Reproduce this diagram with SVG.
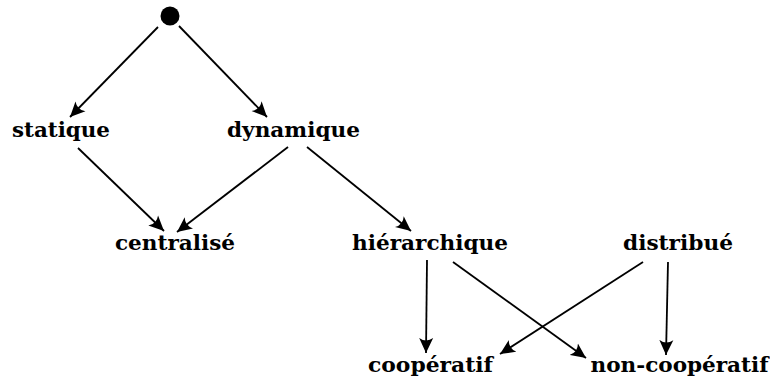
<svg xmlns="http://www.w3.org/2000/svg" width="770" height="378" viewBox="0 0 770 378">
<style>
.lbl{font-family:"DejaVu Serif","Liberation Serif",serif;font-weight:bold;font-size:21px;fill:#000;text-anchor:middle}
.edge{stroke:#000;stroke-width:1.8;fill:none;marker-end:url(#ah)}
</style>
<defs>
<marker id="ah" markerUnits="userSpaceOnUse" markerWidth="17" markerHeight="15" refX="15" refY="7" orient="auto" viewBox="0 0 17 14">
<path d="M15,7 L0,0 Q5,7 0,14 Z" fill="#000"/>
</marker>
</defs>
<rect width="770" height="378" fill="#fff"/>
<g id="connectors">
<path class="edge" d="M158,27 L70,117"/>
<path class="edge" d="M179,26 L267,117"/>
<path class="edge" d="M78,148 L164,231"/>
<path class="edge" d="M288,147 L177,232"/>
<path class="edge" d="M307,147 L411,231"/>
<path class="edge" d="M427,260 L426,353"/>
<path class="edge" d="M453,262 L586,358"/>
<path class="edge" d="M643,262 L500,354"/>
<path class="edge" d="M668,262 L666,355"/>
</g>
<g id="start"><ellipse cx="170" cy="16" rx="9.5" ry="9.5" fill="#000"/></g>
<g id="statique"><text class="lbl" x="61" y="137" textLength="98" lengthAdjust="spacingAndGlyphs">statique</text></g>
<g id="dynamique"><text class="lbl" x="293.5" y="137" textLength="133" lengthAdjust="spacingAndGlyphs">dynamique</text></g>
<g id="centralise"><text class="lbl" x="175" y="250" textLength="120" lengthAdjust="spacingAndGlyphs">centralisé</text></g>
<g id="hierarchique"><text class="lbl" x="430" y="250" textLength="156" lengthAdjust="spacingAndGlyphs">hiérarchique</text></g>
<g id="distribue"><text class="lbl" x="678" y="250" textLength="110" lengthAdjust="spacingAndGlyphs">distribué</text></g>
<g id="cooperatif"><text class="lbl" x="430.5" y="372" textLength="125" lengthAdjust="spacingAndGlyphs">coopératif</text></g>
<g id="noncooperatif"><text class="lbl" x="679.5" y="372" textLength="178" lengthAdjust="spacingAndGlyphs">non-coopératif</text></g>
</svg>
